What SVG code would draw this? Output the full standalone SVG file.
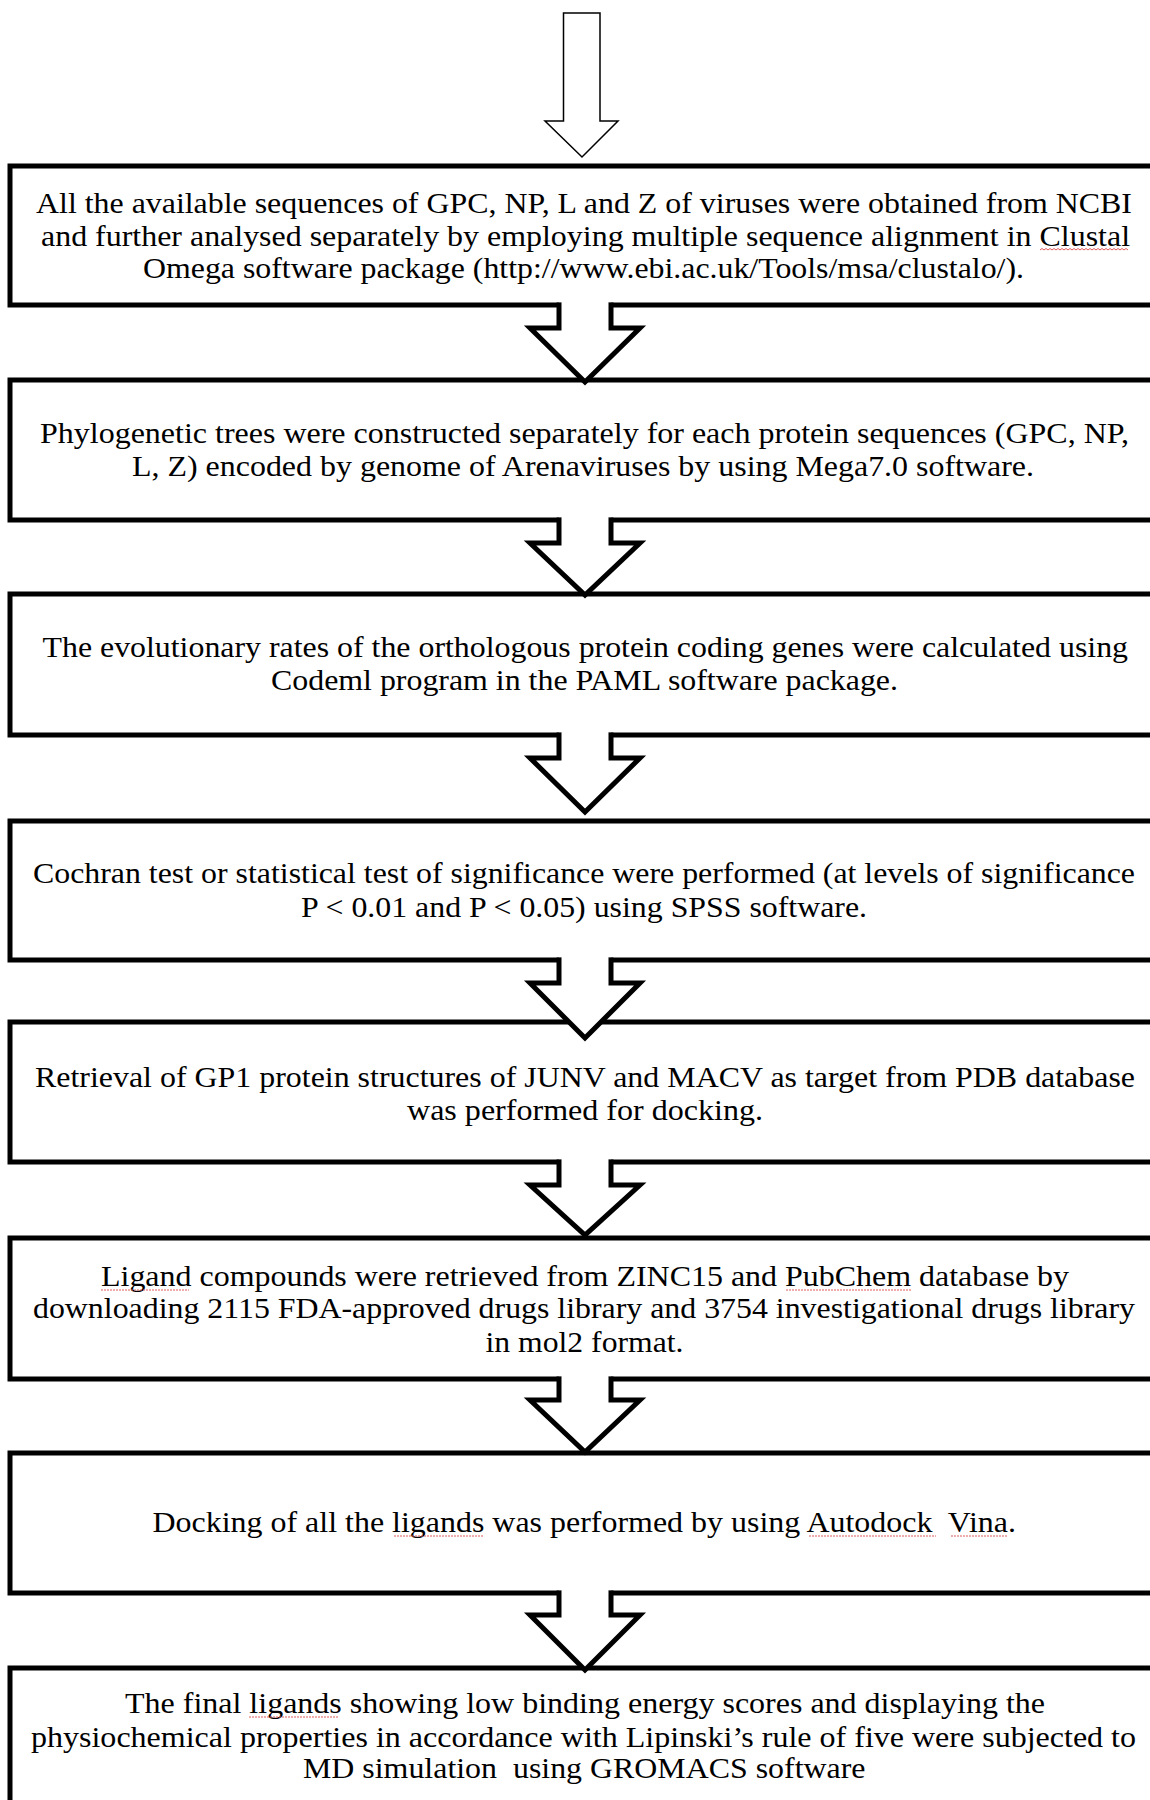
<svg xmlns="http://www.w3.org/2000/svg" width="1150" height="1800" viewBox="0 0 1150 1800">
<style>
.box{fill:#fff;stroke:#000;stroke-width:5;stroke-linejoin:miter}
.arr{fill:#fff;stroke:#000;stroke-width:5;stroke-linejoin:miter;stroke-linecap:butt}
.gap{fill:#fff;stroke:none}
.start{fill:#fff;stroke:#000;stroke-width:1.5}
.t{font-family:'Liberation Serif','Times New Roman',serif;font-size:30px;fill:#000}
.sq{fill:none;stroke:#e05a5a;stroke-width:1}
</style>
<rect width="1150" height="1800" fill="#fff"/>
<g id="start-arrow">
<polygon class="start" points="563.5,13 600,13 600,121 618,121 582,157 545,121 563.5,121"/>
</g>
<g id="step1">
<rect class="box" x="10" y="166" width="1200" height="139"/>
<text class="t" x="36" y="213" textLength="1096" lengthAdjust="spacingAndGlyphs">All the available sequences of GPC, NP, L and Z of viruses were obtained from NCBI</text>
<text class="t" x="41" y="246" textLength="1089" lengthAdjust="spacingAndGlyphs">and further analysed separately by employing multiple sequence alignment in Clustal</text>
<text class="t" x="143" y="278" textLength="881" lengthAdjust="spacingAndGlyphs">Omega software package (http://www.ebi.ac.uk/Tools/msa/clustalo/).</text>
</g>
<g id="step2">
<rect class="box" x="10" y="380" width="1200" height="140"/>
<text class="t" x="40" y="443" textLength="1089" lengthAdjust="spacingAndGlyphs">Phylogenetic trees were constructed separately for each protein sequences (GPC, NP,</text>
<text class="t" x="132" y="476" textLength="902" lengthAdjust="spacingAndGlyphs">L, Z) encoded by genome of Arenaviruses by using Mega7.0 software.</text>
</g>
<g id="step3">
<rect class="box" x="10" y="594" width="1200" height="141"/>
<text class="t" x="42.5" y="657" textLength="1085.5" lengthAdjust="spacingAndGlyphs">The evolutionary rates of the orthologous protein coding genes were calculated using</text>
<text class="t" x="271" y="690" textLength="627" lengthAdjust="spacingAndGlyphs">Codeml program in the PAML software package.</text>
</g>
<g id="step4">
<rect class="box" x="10" y="821" width="1200" height="139"/>
<text class="t" x="33" y="883" textLength="1102" lengthAdjust="spacingAndGlyphs">Cochran test or statistical test of significance were performed (at levels of significance</text>
<text class="t" x="301" y="917" textLength="566" lengthAdjust="spacingAndGlyphs">P &lt; 0.01 and P &lt; 0.05) using SPSS software.</text>
</g>
<g id="step5">
<rect class="box" x="10" y="1022" width="1200" height="140"/>
<text class="t" x="35" y="1087" textLength="1100" lengthAdjust="spacingAndGlyphs">Retrieval of GP1 protein structures of JUNV and MACV as target from PDB database</text>
<text class="t" x="407" y="1120" textLength="356" lengthAdjust="spacingAndGlyphs">was performed for docking.</text>
</g>
<g id="step6">
<rect class="box" x="10" y="1238" width="1200" height="141"/>
<text class="t" x="101" y="1286" textLength="968" lengthAdjust="spacingAndGlyphs">Ligand compounds were retrieved from ZINC15 and PubChem database by</text>
<text class="t" x="33" y="1318" textLength="1102" lengthAdjust="spacingAndGlyphs">downloading 2115 FDA-approved drugs library and 3754 investigational drugs library</text>
<text class="t" x="485.5" y="1352" textLength="198" lengthAdjust="spacingAndGlyphs">in mol2 format.</text>
</g>
<g id="step7">
<rect class="box" x="10" y="1453" width="1200" height="140"/>
<text class="t" x="152.5" y="1532" textLength="863.5" lengthAdjust="spacingAndGlyphs" xml:space="preserve">Docking of all the ligands was performed by using Autodock  Vina.</text>
</g>
<g id="step8">
<rect class="box" x="10" y="1668" width="1200" height="200"/>
<text class="t" x="125" y="1713" textLength="920" lengthAdjust="spacingAndGlyphs">The final ligands showing low binding energy scores and displaying the</text>
<text class="t" x="31" y="1747" textLength="1105" lengthAdjust="spacingAndGlyphs">physiochemical properties in accordance with Lipinski’s rule of five were subjected to</text>
<text class="t" x="303" y="1778" textLength="562.5" lengthAdjust="spacingAndGlyphs" xml:space="preserve">MD simulation  using GROMACS software</text>
</g>
<g id="spellcheck-marks">
<path class="sq" d="M1040,250 l2,-1.5 l2,1.5 l2,-1.5 l2,1.5 l2,-1.5 l2,1.5 l2,-1.5 l2,1.5 l2,-1.5 l2,1.5 l2,-1.5 l2,1.5 l2,-1.5 l2,1.5 l2,-1.5 l2,1.5 l2,-1.5 l2,1.5 l2,-1.5 l2,1.5 l2,-1.5 l2,1.5 l2,-1.5 l2,1.5 l2,-1.5 l2,1.5 l2,-1.5 l2,1.5 l2,-1.5 l2,1.5 l2,-1.5 l2,1.5 l2,-1.5 l2,1.5 l2,-1.5 l2,1.5 l2,-1.5 l2,1.5 l2,-1.5 l2,1.5 l2,-1.5 l2,1.5 l2,-1.5 l2,1.5"/>
<path class="sq" d="M101,1290 h88" stroke-dasharray="2,1"/>
<path class="sq" d="M786,1290 h126" stroke-dasharray="2,1"/>
<path class="sq" d="M394,1536 h89" stroke-dasharray="2,1"/>
<path class="sq" d="M809,1536 h127" stroke-dasharray="2,1"/>
<path class="sq" d="M951,1536 h57" stroke-dasharray="2,1"/>
<path class="sq" d="M249,1717 h90" stroke-dasharray="2,1"/>
</g>
<g id="connectors">
<rect class="gap" x="561.5" y="301" width="47" height="6"/>
<path class="arr" d="M559,302.5 V328 H530 L585,382 L640,328 H611 V302.5"/>
<rect class="gap" x="561.5" y="516" width="47" height="6"/>
<path class="arr" d="M559,517.5 V543 H530 L585,595 L640,543 H611 V517.5"/>
<rect class="gap" x="561.5" y="731" width="47" height="6"/>
<path class="arr" d="M559,732.5 V758 H530 L585,812 L640,758 H611 V732.5"/>
<rect class="gap" x="561.5" y="956" width="47" height="6"/>
<path class="arr" d="M559,957.5 V983 H530 L585,1038 L640,983 H611 V957.5"/>
<rect class="gap" x="561.5" y="1158" width="47" height="6"/>
<path class="arr" d="M559,1159.5 V1185 H530 L585,1235 L640,1185 H611 V1159.5"/>
<rect class="gap" x="561.5" y="1375" width="47" height="6"/>
<path class="arr" d="M559,1376.5 V1400 H530 L585,1452 L640,1400 H611 V1376.5"/>
<rect class="gap" x="561.5" y="1589" width="47" height="6"/>
<path class="arr" d="M559,1590.5 V1615 H530 L585,1670 L640,1615 H611 V1590.5"/>
</g>
</svg>
